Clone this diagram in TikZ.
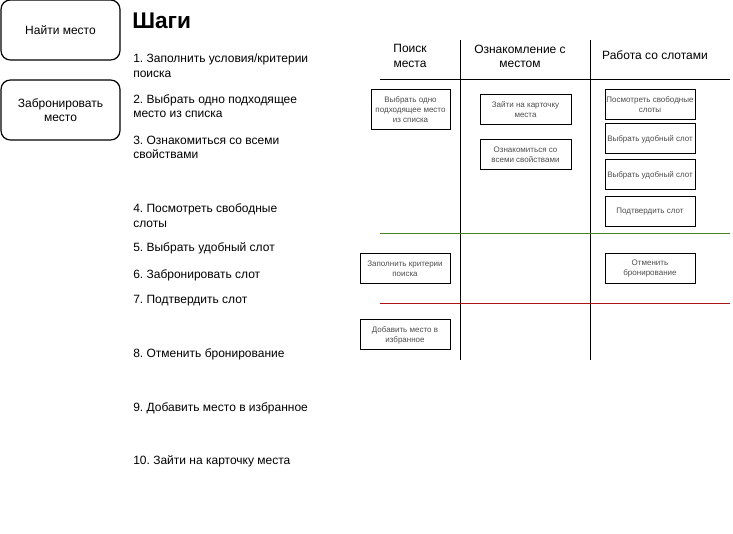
\documentclass[tikz,border=0pt]{standalone}
\usepackage{fontspec}
\setmainfont{Liberation Sans}
\frenchspacing
\begin{document}
\begin{tikzpicture}[x=0.75pt,y=-0.75pt,
  rbox/.style={draw, line width=0.9pt, rounded corners=7pt, align=center, font=\fontsize{9}{11}\selectfont, inner sep=0pt},
  sbox/.style={draw, line width=0.75pt, align=center, font=\fontsize{6}{7.5}\selectfont, text=black!70, inner sep=0pt},
  steptxt/.style={anchor=west, align=left, font=\fontsize{9}{11}\selectfont, inner sep=0pt},
  head/.style={align=center, font=\fontsize{9}{11}\selectfont, inner sep=0pt},
  sep/.style={line width=0.75pt}]
\useasboundingbox (0,0) rectangle (733,534);
% left rounded boxes
\node[rbox, minimum width=119*0.75pt, minimum height=60*0.75pt] (find) at (60.5,30) {Найти место};
\node[rbox, minimum width=119*0.75pt, minimum height=60*0.75pt] (book) at (60.5,110) {Забронировать\\место};
% title
\node[anchor=west, inner sep=0pt, font=\fontsize{17}{20}\selectfont\bfseries] (title) at (132,21) {Шаги};
% steps
\node[steptxt] (s1) at (133,65.5) {1. Заполнить условия/критерии\\поиска};
\node[steptxt] (s2) at (133,106) {2. Выбрать одно подходящее\\место из списка};
\node[steptxt] (s3) at (133,147.5) {3. Ознакомиться со всеми\\свойствами};
\node[steptxt] (s4) at (133,215.5) {4. Посмотреть свободные\\слоты};
\node[steptxt] (s5) at (133,248) {5. Выбрать удобный слот};
\node[steptxt] (s6) at (133,275) {6. Забронировать слот};
\node[steptxt] (s7) at (133,301) {7. Подтвердить слот};
\node[steptxt] (s8) at (133,354) {8. Отменить бронирование};
\node[steptxt] (s9) at (133,408) {9. Добавить место в избранное};
\node[steptxt] (s10) at (133,461) {10. Зайти на карточку места};
% table lines
\coordinate (v1t) at (460,40); \coordinate (v1b) at (460,360);
\coordinate (v2t) at (590,40); \coordinate (v2b) at (590,360);
\coordinate (h1l) at (380,80); \coordinate (h1r) at (730,80);
\coordinate (h2l) at (380,234); \coordinate (h2r) at (730,234);
\coordinate (h3l) at (380,304); \coordinate (h3r) at (730,304);
\draw[sep] (v1t) -- (v1b);
\draw[sep] (v2t) -- (v2b);
\draw[sep] (h1l) -- (h1r);
\draw[sep, draw={rgb,255:red,77;green,128;blue,33}] (h2l) -- (h2r);
\draw[sep, draw={rgb,255:red,170;green,20;blue,20}] (h3l) -- (h3r);
% headers
\node[head] (hd1) at (410,56) {Поиск\\места};
\node[head] (hd2) at (520,56.5) {Ознакомление с\\местом};
\node[head] (hd3) at (655,55.5) {Работа со слотами};
% small boxes
\node[sbox, minimum width=79*0.75pt, minimum height=40*0.75pt] (b1) at (410.5,110) {Выбрать одно\\подходящее место\\из списка};
\node[sbox, minimum width=91*0.75pt, minimum height=30*0.75pt] (b2) at (525.5,110) {Зайти на карточку\\места};
\node[sbox, minimum width=91*0.75pt, minimum height=30*0.75pt] (b3) at (525.5,155) {Ознакомиться со\\всеми свойствами};
\node[sbox, minimum width=90*0.75pt, minimum height=30*0.75pt] (b4) at (650,105) {Посмотреть свободные\\слоты};
\node[sbox, minimum width=90*0.75pt, minimum height=30*0.75pt] (b5) at (650,139) {Выбрать удобный слот};
\node[sbox, minimum width=90*0.75pt, minimum height=30*0.75pt] (b6) at (650,175) {Выбрать удобный слот};
\node[sbox, minimum width=90*0.75pt, minimum height=30*0.75pt] (b7) at (650,212) {Подтвердить слот};
\node[sbox, minimum width=90*0.75pt, minimum height=30*0.75pt] (b8) at (405,269) {Заполнить критерии\\поиска};
\node[sbox, minimum width=90*0.75pt, minimum height=30*0.75pt] (b9) at (650,269) {Отменить\\бронирование};
\node[sbox, minimum width=90*0.75pt, minimum height=30*0.75pt] (b10) at (405,335) {Добавить место в\\избранное};
\end{tikzpicture}
\end{document}
